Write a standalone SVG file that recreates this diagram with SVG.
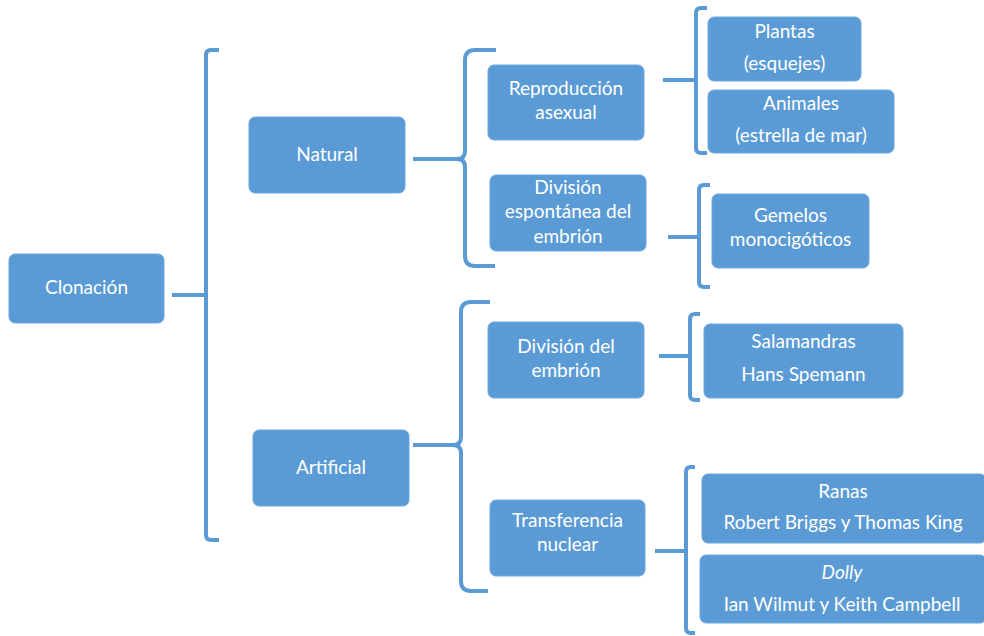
<svg xmlns="http://www.w3.org/2000/svg" width="984" height="636" viewBox="0 0 984 636">
  <style>
    .box { fill: #5B9BD5; stroke: #6FA8DC; stroke-width: 1; }
    .lbl { fill: #FFFFFF; font-family: Lato, "Open Sans", "Liberation Sans", sans-serif; font-size: 19px; text-anchor: middle; }
    .it { font-style: italic; }
    .br { fill: none; stroke: #5B9BD5; stroke-width: 4; stroke-linecap: butt; stroke-linejoin: round; }
  </style>
  <rect width="984" height="636" fill="#FFFFFF"/>

  <!-- brackets and connectors -->
  <g id="connectors">
    <!-- root bracket -->
    <path class="br" d="M219,50 H211 Q206,50 206,55 V535 Q206,540 211,540 H219"/>
    <path class="br" d="M172,295 H206"/>
    <!-- Natural brace -->
    <path class="br" d="M496,50 H475 Q465,50 465,60 V151 Q465,159 457,159 H413 M457,159 Q465,159 465,167 V256 Q465,266 475,266 H495"/>
    <!-- Artificial brace -->
    <path class="br" d="M490,302 H471 Q461,302 461,312 V437 Q461,445 453,445 H413 M453,445 Q461,445 461,453 V581 Q461,591 471,591 H488"/>
    <!-- Reproducción asexual bracket -->
    <path class="br" d="M707,8 H701 Q696,8 696,13 V148 Q696,153 701,153 H707 M663,80 H696"/>
    <!-- División espontánea bracket -->
    <path class="br" d="M710,185 H704 Q699,185 699,190 V282 Q699,287 704,287 H710 M668,237 H699"/>
    <!-- División del embrión bracket -->
    <path class="br" d="M700,314 H695 Q690,314 690,319 V395 Q690,400 695,400 H700 M659,356 H690"/>
    <!-- Transferencia nuclear bracket -->
    <path class="br" d="M695,467 H691 Q686,467 686,472 V628 Q686,633 691,633 H695 M655,551 H686"/>
  </g>

  <g id="clonacion">
    <rect class="box" x="9" y="254" width="155" height="69" rx="6"/>
    <text class="lbl" x="86.5" y="294">Clonación</text>
  </g>

  <g id="natural">
    <rect class="box" x="249" y="117" width="156" height="76" rx="6"/>
    <text class="lbl" x="327" y="161">Natural</text>
  </g>

  <g id="artificial">
    <rect class="box" x="253" y="430" width="156" height="76" rx="6"/>
    <text class="lbl" x="331" y="474">Artificial</text>
  </g>

  <g id="reproduccion">
    <rect class="box" x="488" y="65" width="156" height="75" rx="6"/>
    <text class="lbl" x="566" y="95">Reproducción</text>
    <text class="lbl" x="566" y="119">asexual</text>
  </g>

  <g id="division-espontanea">
    <rect class="box" x="490" y="175" width="156" height="76" rx="6"/>
    <text class="lbl" x="568" y="194">División</text>
    <text class="lbl" x="568" y="218">espontánea del</text>
    <text class="lbl" x="568" y="243">embrión</text>
  </g>

  <g id="division-embrion">
    <rect class="box" x="488" y="322" width="156" height="76" rx="6"/>
    <text class="lbl" x="566" y="353">División del</text>
    <text class="lbl" x="566" y="377">embrión</text>
  </g>

  <g id="transferencia">
    <rect class="box" x="490" y="500" width="155" height="76" rx="6"/>
    <text class="lbl" x="567.5" y="527">Transferencia</text>
    <text class="lbl" x="567.5" y="551">nuclear</text>
  </g>

  <g id="plantas">
    <rect class="box" x="708" y="17" width="153" height="64" rx="6"/>
    <text class="lbl" x="784.5" y="38">Plantas</text>
    <text class="lbl" x="784.5" y="70">(esquejes)</text>
  </g>

  <g id="animales">
    <rect class="box" x="708" y="90" width="186" height="63" rx="6"/>
    <text class="lbl" x="801" y="110">Animales</text>
    <text class="lbl" x="801" y="142">(estrella de mar)</text>
  </g>

  <g id="gemelos">
    <rect class="box" x="712" y="194" width="157" height="74" rx="6"/>
    <text class="lbl" x="790.5" y="222">Gemelos</text>
    <text class="lbl" x="790.5" y="246">monocigóticos</text>
  </g>

  <g id="salamandras">
    <rect class="box" x="704" y="324" width="199" height="74" rx="6"/>
    <text class="lbl" x="803.5" y="348">Salamandras</text>
    <text class="lbl" x="803.5" y="381">Hans Spemann</text>
  </g>

  <g id="ranas">
    <rect class="box" x="702" y="474" width="284" height="69" rx="6"/>
    <text class="lbl" x="843" y="498">Ranas</text>
    <text class="lbl" x="843" y="529">Robert Briggs y Thomas King</text>
  </g>

  <g id="dolly">
    <rect class="box" x="700" y="555" width="286" height="68" rx="6"/>
    <text class="lbl it" x="842" y="579">Dolly</text>
    <text class="lbl" x="842" y="611">Ian Wilmut y Keith Campbell</text>
  </g>
</svg>
